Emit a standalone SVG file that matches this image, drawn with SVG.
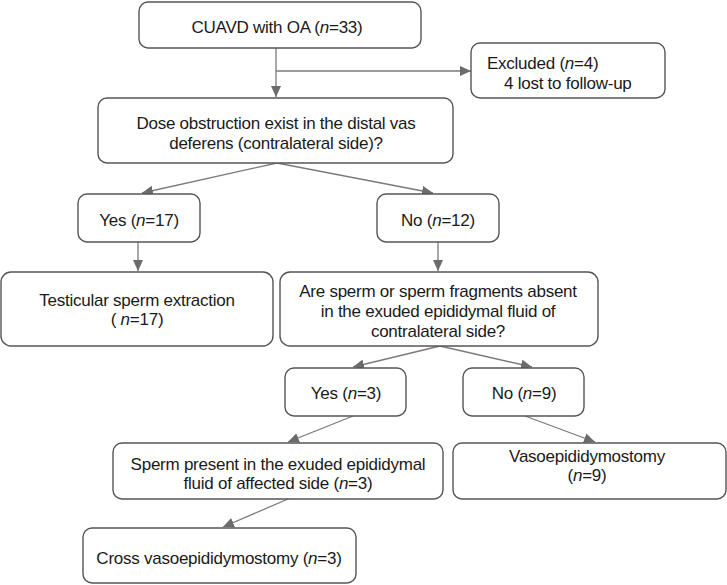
<svg xmlns="http://www.w3.org/2000/svg" width="727" height="585" viewBox="0 0 727 585">
<defs>
<marker id="ah" markerUnits="userSpaceOnUse" markerWidth="12" markerHeight="10" refX="11" refY="5" orient="auto">
<path d="M0,0 L11,5 L0,10 Z" fill="#6b6b6b"/>
</marker>
<style>
.box{fill:#fff;stroke:#555;stroke-width:1.4}
.t{font-family:"Liberation Sans",Arial,sans-serif;font-size:17px;letter-spacing:-0.25px;fill:#1a1a1a;text-anchor:middle}
.l{text-anchor:start}
.c{fill:none;stroke:#7a7a7a;stroke-width:1.3;marker-end:url(#ah)}
</style>
</defs>
<rect width="727" height="585" fill="#fff"/>
<g id="connectors">
<path class="c" d="M276 48 V97"/>
<path class="c" d="M276 71 H471"/>
<path class="c" d="M277 163 L142 193"/>
<path class="c" d="M277 163 L433 193"/>
<path class="c" d="M138 242 V271"/>
<path class="c" d="M438 242 V271"/>
<path class="c" d="M440 346 L353 367"/>
<path class="c" d="M440 346 L532 367"/>
<path class="c" d="M353 416 L288 442"/>
<path class="c" d="M525 416 L595 442"/>
<path class="c" d="M288 499 L223 527"/>
</g>
<g id="n1"><rect class="box" x="139" y="2" width="282" height="46" rx="9"/>
<text class="t" x="277" y="33">CUAVD with OA (<tspan font-style="italic">n</tspan>=33)</text></g>
<g id="excluded"><rect class="box" x="471" y="43" width="194" height="55" rx="9"/>
<text class="t l" x="487" y="69">Excluded (<tspan font-style="italic">n</tspan>=4)</text>
<text class="t l" x="504" y="89">4 lost to follow-up</text></g>
<g id="dose"><rect class="box" x="98" y="98" width="355" height="65" rx="9"/>
<text class="t" x="276" y="129">Dose obstruction exist in the distal vas</text>
<text class="t" x="276" y="149">deferens (contralateral side)?</text></g>
<g id="yes17"><rect class="box" x="78" y="194" width="122" height="48" rx="9"/>
<text class="t" x="139" y="226">Yes (<tspan font-style="italic">n</tspan>=17)</text></g>
<g id="no12"><rect class="box" x="377" y="194" width="122" height="48" rx="9"/>
<text class="t" x="438" y="226">No (<tspan font-style="italic">n</tspan>=12)</text></g>
<g id="tese"><rect class="box" x="1" y="272" width="272" height="74" rx="10"/>
<text class="t" x="137" y="306">Testicular sperm extraction</text>
<text class="t" x="137" y="325">( <tspan font-style="italic">n</tspan>=17)</text></g>
<g id="absent"><rect class="box" x="280" y="272" width="318" height="74" rx="10"/>
<text class="t" x="438" y="297">Are sperm or sperm fragments absent</text>
<text class="t" x="438" y="317">in the exuded epididymal fluid of</text>
<text class="t" x="438" y="337">contralateral side?</text></g>
<g id="yes3"><rect class="box" x="285" y="368" width="121" height="48" rx="9"/>
<text class="t" x="346" y="399">Yes (<tspan font-style="italic">n</tspan>=3)</text></g>
<g id="no9"><rect class="box" x="463" y="368" width="121" height="48" rx="9"/>
<text class="t" x="524" y="399">No (<tspan font-style="italic">n</tspan>=9)</text></g>
<g id="present"><rect class="box" x="113" y="443" width="330" height="56" rx="9"/>
<text class="t" x="278" y="470">Sperm present in the exuded epididymal</text>
<text class="t" x="278" y="489">fluid of affected side (<tspan font-style="italic">n</tspan>=3)</text></g>
<g id="vaso"><rect class="box" x="453" y="443" width="273" height="56" rx="9"/>
<text class="t" x="587" y="462">Vasoepididymostomy</text>
<text class="t" x="587" y="481">(<tspan font-style="italic">n</tspan>=9)</text></g>
<g id="cross"><rect class="box" x="83" y="528" width="273" height="55" rx="9"/>
<text class="t" x="219" y="564">Cross vasoepididymostomy (<tspan font-style="italic">n</tspan>=3)</text></g>
</svg>
